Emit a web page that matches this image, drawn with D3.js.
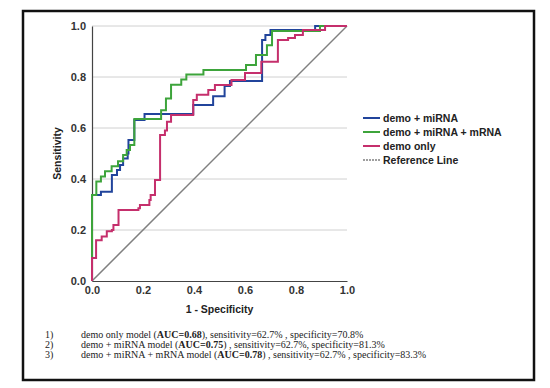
<!DOCTYPE html>
<html lang="en">
<head>
    <meta charset="UTF-8">
    <title>ROC curves</title>
    <script src="https://d3js.org/d3.v7.min.js"></script>
    <style>
        body { margin: 0; background: #fff; }
        svg { display: block; }
        .tick-label { font-family: "Liberation Sans", Arial, sans-serif; font-size: 11px; font-weight: bold; fill: #333; }
        .axis-title { font-family: "Liberation Sans", Arial, sans-serif; font-size: 10.5px; font-weight: bold; fill: #222; }
        .legend-text { font-family: "Liberation Sans", Arial, sans-serif; font-size: 10.5px; font-weight: bold; fill: #222; }
        .note { font-family: "Liberation Serif", "Times New Roman", serif; font-size: 10px; fill: #222; }
        .grid { stroke: #d0d0d0; stroke-width: 1; }
    </style>
</head>
<body>
<svg id="chart"></svg>
<script>
// ROC points [1 - specificity, sensitivity]
const demoMirna = [[0,0],[0,0.337],[0.035,0.35],[0.078,0.416],[0.098,0.435],[0.11,0.455],[0.122,0.48],
  [0.14,0.5],[0.143,0.553],[0.166,0.631],[0.206,0.655],[0.397,0.69],[0.475,0.725],[0.52,0.765],
  [0.541,0.784],[0.667,0.945],[0.68,0.965],[0.7,0.984],[0.875,1],[1,1]];
const demoMirnaMrna = [[0,0],[0,0.337],[0.017,0.39],[0.035,0.41],[0.051,0.43],[0.077,0.45],[0.102,0.47],
  [0.122,0.494],[0.136,0.514],[0.149,0.533],[0.166,0.635],[0.271,0.67],[0.29,0.716],[0.31,0.77],
  [0.35,0.79],[0.37,0.81],[0.437,0.827],[0.604,0.847],[0.643,0.886],[0.686,0.925],[0.706,0.98],
  [0.894,1],[1,1]];
const demoOnly = [[0,0],[0,0.09],[0.016,0.16],[0.038,0.175],[0.058,0.195],[0.078,0.2],[0.084,0.22],
  [0.104,0.278],[0.182,0.285],[0.188,0.298],[0.225,0.318],[0.23,0.337],[0.247,0.396],[0.267,0.573],
  [0.286,0.59],[0.294,0.625],[0.31,0.651],[0.397,0.71],[0.411,0.73],[0.456,0.749],[0.482,0.769],
  [0.547,0.788],[0.6,0.816],[0.664,0.86],[0.729,0.945],[0.769,0.953],[0.796,0.965],[0.827,0.984],
  [0.914,1],[1,1]];
const referenceLine = [[0,0],[1,1]];

const seriesNames = ["demo + miRNA", "demo + miRNA + mRNA", "demo only", "Reference Line"];
const seriesColors = ["#21449b", "#3da43b", "#c52f6c", "#808080"];
const ticks = [0, 0.2, 0.4, 0.6, 0.8, 1.0];
const notes = [
  ["1)", "demo only model (", "AUC=0.68", "), sensitivity=62.7% , specificity=70.8%"],
  ["2)", "demo + miRNA model (", "AUC=0.75", ") , sensitivity=62.7%, specificity=81.3%"],
  ["3)", "demo + miRNA + mRNA model (", "AUC=0.78", ") , sensitivity=62.7% , specificity=83.3%"]
];

const width = 550, height = 388;
const svg = d3.select("#chart").attr("width", width).attr("height", height);

// outer frame
svg.append("rect").attr("x", 23).attr("y", 11).attr("width", 511).attr("height", 369)
  .attr("fill", "none").attr("stroke", "#111").attr("stroke-width", 2.5);

const x = d3.scaleLinear().domain([0, 1]).range([92, 347]);
const y = d3.scaleLinear().domain([0, 1]).range([281, 26]);

// horizontal grid
svg.selectAll(".grid").data(ticks.slice(1)).enter().append("line")
  .attr("class", "grid")
  .attr("x1", x(0)).attr("x2", x(1))
  .attr("y1", d => y(d)).attr("y2", d => y(d));

// axes
const yAxis = svg.append("g").attr("transform", `translate(${x(0)},0)`)
  .call(d3.axisLeft(y).tickValues(ticks).tickFormat(d3.format(".1f")).tickSize(0).tickPadding(6));
const xAxis = svg.append("g").attr("transform", `translate(0,${y(0)})`)
  .call(d3.axisBottom(x).tickValues(ticks).tickFormat(d3.format(".1f")).tickSize(0).tickPadding(5));
[xAxis, yAxis].forEach(a => {
  a.select(".domain").attr("stroke", "#444").attr("stroke-width", 1.2);
  a.selectAll("text").attr("class", "tick-label").attr("font-family", null).attr("font-size", null).attr("fill", null);
});

svg.append("text").attr("class", "axis-title")
  .attr("transform", `translate(61,${y(0.5)}) rotate(-90)`)
  .attr("text-anchor", "middle").text("Sensitivity");
svg.append("text").attr("class", "axis-title")
  .attr("x", x(0.5)).attr("y", 313).attr("text-anchor", "middle").text("1 - Specificity");

// reference diagonal
const plain = d3.line().x(d => x(d[0])).y(d => y(d[1]));
svg.append("path").datum(referenceLine).attr("d", plain)
  .attr("fill", "none").attr("stroke", seriesColors[3]).attr("stroke-width", 1.5);

// ROC step curves
const step = d3.line().x(d => x(d[0])).y(d => y(d[1])).curve(d3.curveStepAfter);
[demoMirna, demoMirnaMrna, demoOnly].forEach((s, i) => {
  svg.append("path").datum(s).attr("d", step)
    .attr("fill", "none").attr("stroke", seriesColors[i]).attr("stroke-width", 2);
});

// legend
const legend = svg.append("g").attr("transform", "translate(363,118)");
seriesNames.forEach((name, i) => {
  const row = legend.append("g").attr("transform", `translate(0,${i * 14})`);
  row.append("line").attr("x1", 0).attr("x2", 17).attr("y1", 0).attr("y2", 0)
    .attr("stroke", seriesColors[i]).attr("stroke-width", i === 3 ? 1.5 : 2)
    .attr("stroke-dasharray", i === 3 ? "2,1" : null);
  row.append("text").attr("class", "legend-text").attr("x", 20).attr("y", 4).text(name);
});

// footnotes
notes.forEach((n, i) => {
  const yy = 338 + i * 9.8;
  svg.append("text").attr("class", "note").attr("x", 45).attr("y", yy).text(n[0]);
  const t = svg.append("text").attr("class", "note").attr("x", 81).attr("y", yy);
  t.append("tspan").text(n[1]);
  t.append("tspan").attr("font-weight", "bold").text(n[2]);
  t.append("tspan").text(n[3]);
});
</script>
</body>
</html>
